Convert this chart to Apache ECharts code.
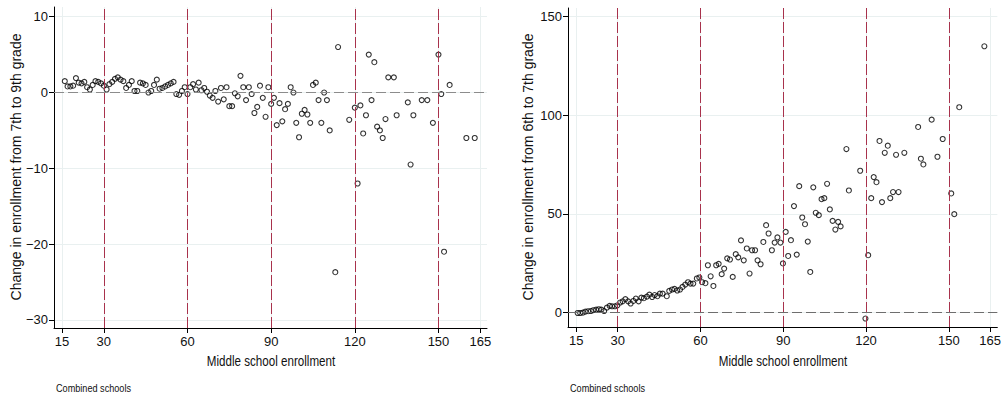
<!DOCTYPE html>
<html><head><meta charset="utf-8">
<script src="https://cdn.jsdelivr.net/npm/echarts@6/dist/echarts.min.js"></script>
<style>html,body{margin:0;padding:0;background:#fff}#c{width:1004px;height:397px}</style>
</head><body><div id="c"></div>
<script>
// ---- data ----
const xTicks = [15, 30, 60, 90, 120, 150, 165];
const yTicksLeft = [-30, -20, -10, 0, 10];
const yTicksRight = [0, 50, 100, 150];
const cutoffs = [30, 60, 90, 120, 150];

const leftX = [16,17,18,19,20,21,22,23,24,25,26,27,28,29,30,31,32,33,34,35,36,37,38,39,40,41,42,43,44,45,
  46,47,48,49,50,51,52,53,54,55,56,57,58,59,60,61,62,63,64,65,66,67,68,69,70,71,72,73,74,75,
  76,77,78,79,80,81,82,83,84,85,86,87,88,89,90,91,92,93,94,95,96,97,98,99,100,101,102,103,104,105,
  106,107,108,109,110,111,113,114,118,120,121,122,123,124,125,126,127,128,129,130,131,132,134,135,
  139,140,141,144,146,148,150,151,152,154,160,163];
const leftY = [1.5,0.8,0.8,0.9,1.9,1.3,1.2,1.4,0.7,0.4,1.0,1.5,1.4,1.2,0.9,0.4,1.1,1.4,1.8,2.0,1.7,1.5,0.6,1.0,1.5,0.2,0.2,1.3,1.2,1.0,
  0.0,0.2,1.0,1.7,0.5,0.6,0.8,1.0,1.2,1.4,-0.2,-0.3,0.2,0.7,-0.2,0.7,1.1,0.4,1.3,0.3,0.6,0.1,-0.4,-0.7,0.2,-1.2,0.6,-0.9,0.7,-1.8,
  -1.8,-0.1,-0.5,2.2,0.7,-1.0,0.7,-0.2,-2.7,-1.9,0.9,-0.7,-3.2,0.7,-1.5,-0.7,-4.3,-1.4,-3.8,-2.2,-1.5,0.7,0.0,-4.0,-5.9,-2.8,-2.3,-2.9,-4.0,1.0,
  1.3,-1.0,-4.0,0.0,-1.0,-5.0,-23.7,6.0,-3.6,-2.0,-12.0,-1.7,-5.4,-3.0,5.0,-1.0,4.0,-4.5,-5.0,-6.0,-3.5,2.0,2.0,-3.0,
  -1.3,-9.5,-3.0,-1.0,-1.0,-4.0,5.0,-0.2,-21.0,1.0,-6.0,-6.0];

const rightX = [15.5,16.4,17.4,18.3,19.3,20.3,21.2,22.2,23.2,24.1,25.1,26.1,27.1,28.0,29.0,29.9,30.9,31.8,32.8,33.8,
  34.7,35.7,36.6,37.6,38.6,39.5,40.6,41.5,42.5,43.4,44.4,45.3,46.3,47.8,48.7,49.7,50.6,51.6,52.6,53.5,
  54.5,55.5,56.4,57.4,58.7,59.6,60.6,61.8,62.7,63.7,64.7,65.7,66.6,67.7,68.6,69.7,70.7,71.7,72.8,73.7,
  74.7,75.7,76.8,77.8,78.7,79.8,80.7,81.8,82.8,83.8,84.7,85.9,86.9,87.9,89.0,89.9,90.9,91.8,92.8,93.9,
  94.9,95.8,96.9,97.9,98.9,99.8,100.9,101.8,102.9,103.9,104.9,105.9,106.9,107.9,108.9,109.9,110.8,112.9,113.8,117.9,
  119.8,120.8,121.9,122.8,123.8,124.9,125.8,126.8,127.9,128.8,129.8,130.9,131.8,133.9,138.9,139.9,140.8,143.8,145.9,147.8,
  150.9,152.0,153.8,162.9];
const rightY = [-0.2,-0.2,0,0.5,0.7,0.8,1.2,1.5,1.7,1.5,0.8,2.5,3.4,3.2,3.2,3.7,5.1,5.7,6.8,5.7,
  4.6,5.9,7.1,5.7,7.6,7.3,8.1,9.1,7.9,8.9,8.3,9.6,9.6,8.3,11.0,11.7,12.0,11.2,11.7,13.0,
  14.2,15.4,14.7,14.7,17.3,17.8,15.4,14.9,24.0,18.4,13.5,24.0,24.7,19.5,22.3,27.5,26.9,18.1,29.6,28.0,
  36.6,26.5,32.5,19.8,31.6,31.6,26.5,24.5,35.8,44.3,40.1,31.6,35.5,38.1,35.5,24.9,40.9,28.7,36.7,54.0,
  29.4,64.1,48.2,44.8,36.0,20.6,63.5,50.6,49.4,57.5,58.0,65.3,52.3,46.5,42.1,46.0,43.7,82.9,61.9,71.9,
  -3.0,29.1,58.0,68.7,66.1,87.0,56.0,81.0,84.6,58.0,61.1,80.0,61.1,81.0,94.1,78.0,75.1,97.8,79.0,88.0,
  60.4,49.9,104.1,135.0];

const yTitleLeft = 'Change in enrollment from 7th to 9th grade';
const yTitleRight = 'Change in enrollment from 6th to 7th grade';
const xTitle = 'Middle school enrollment';
const note = 'Combined schools';

// ---- chart ----
const FONT = '"Liberation Sans",Arial,Helvetica,sans-serif';
const TXT = '#111';
const fmt = v => String(v).replace('-', '\u2212');
const gridColor = '#e9f0f0';
const refColor = '#a8324c';

function xAxisDef(gi, min, max) {
  return {
    type: 'value', gridIndex: gi, min: min, max: max,
    axisLine: {show: true, onZero: false, lineStyle: {color: '#000', width: 1}},
    axisTick: {show: true, length: 5, customValues: xTicks, lineStyle: {color: '#000'}},
    axisLabel: {customValues: xTicks, formatter: fmt, fontFamily: FONT, fontSize: 13, color: TXT, margin: 7},
    splitLine: {show: true, lineStyle: {color: gridColor, width: 1}}
  };
}
function yAxisDef(gi, min, max, ticks) {
  return {
    type: 'value', gridIndex: gi, min: min, max: max,
    axisLine: {show: true, onZero: false, lineStyle: {color: '#000', width: 1}},
    axisTick: {show: true, length: 5, customValues: ticks, lineStyle: {color: '#000'}},
    axisLabel: {customValues: ticks, formatter: fmt, fontFamily: FONT, fontSize: 13, color: TXT, margin: 6},
    splitLine: {show: true, lineStyle: {color: gridColor, width: 1}}
  };
}
function refLines(zeroColor) {
  return {
    silent: true, symbol: 'none', label: {show: false}, animation: false,
    data: cutoffs.map(v => ({xAxis: v, lineStyle: {color: refColor, type: [11, 3], width: 1}}))
      .concat([{yAxis: 0, lineStyle: {color: zeroColor, type: [10, 4], width: 1}}])
  };
}
function scatter(gi, xs, ys, zeroColor) {
  return {
    type: 'scatter', xAxisIndex: gi, yAxisIndex: gi,
    data: xs.map((x, i) => [x, ys[i]]),
    symbol: 'circle', symbolSize: 5,
    itemStyle: {color: 'rgba(0,0,0,0)', borderColor: '#000', borderWidth: 1.1},
    markLine: refLines(zeroColor),
    z: 3
  };
}
function hText(x, y, text, size, sx) {
  return {type: 'text', x: x, y: y, scaleX: sx, silent: true,
    style: {text: text, fontFamily: FONT, fontSize: size, fill: TXT, align: 'center', verticalAlign: 'middle'}};
}
function vText(x, y, text, size) {
  return {type: 'text', x: x, y: y, rotation: Math.PI / 2, silent: true,
    style: {text: text, fontFamily: FONT, fontSize: size, fill: TXT, align: 'center', verticalAlign: 'middle'}};
}
function noteText(x, y) {
  return {type: 'text', x: x, y: y, scaleX: 0.83, silent: true,
    style: {text: note, fontFamily: FONT, fontSize: 11, fill: TXT, align: 'left', verticalAlign: 'middle'}};
}

const chart = echarts.init(document.getElementById('c'), null, {renderer: 'svg'});
chart.setOption({
  animation: false,
  backgroundColor: '#fff',
  grid: [
    {left: 54, top: 7, right: 517, bottom: 69},
    {left: 568, top: 8, right: 6, bottom: 70}
  ],
  xAxis: [xAxisDef(0, 12.13, 167.4), xAxisDef(1, 12.0, 167.6)],
  yAxis: [yAxisDef(0, -31.06, 11.28, yTicksLeft), yAxisDef(1, -7.3, 154.4, yTicksRight)],
  graphic: [
    hText(271, 361, xTitle, 14, 0.83),
    hText(783, 361, xTitle, 14, 0.83),
    vText(16, 167, yTitleLeft, 14),
    vText(528, 167, yTitleRight, 14),
    noteText(56, 388),
    noteText(570, 388)
  ],
  series: [scatter(0, leftX, leftY, '#8c8c8c'), scatter(1, rightX, rightY, '#6e6e6e')]
});
</script></body></html>
